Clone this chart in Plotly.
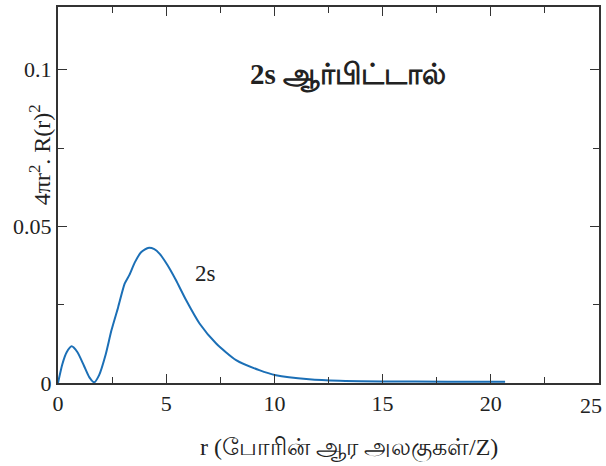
import plotly.graph_objects as go

r_vals = [0, 0.2, 0.4, 0.63, 0.9, 1.2, 1.45, 1.67, 1.9, 2.2, 2.47, 2.78, 3.08, 3.3, 3.55,
          3.85, 4.16, 4.45, 4.7, 4.93, 5.2, 5.46, 5.93, 6.54, 7.31, 8.23, 9.3, 10.07,
          11.6, 13, 15, 18, 20.66]
p_vals = [0, 0.006, 0.0098, 0.0117, 0.0098, 0.0055, 0.0018, 0.0002, 0.0025, 0.009, 0.0168,
          0.0242, 0.0317, 0.0345, 0.0385, 0.0418, 0.0431, 0.0427, 0.0412, 0.039, 0.036,
          0.0327, 0.0263, 0.019, 0.0126, 0.0073, 0.0041, 0.0025, 0.0012, 0.0007, 0.0005,
          0.0004, 0.0004]
x_ticks = [0, 5, 10, 15, 20, 25]
x_tick_labels = ["0", "5", "10", "15", "20", "25"]
y_ticks = [0, 0.05, 0.1]
y_tick_labels = ["0", "0.05", "0.1"]

FONT = "Liberation Serif"
fig = go.Figure()
fig.add_trace(go.Scatter(x=r_vals, y=p_vals, mode="lines",
                         line=dict(color="#1b6fb6", width=2, shape="spline", smoothing=0.6),
                         showlegend=False, hoverinfo="skip"))

axis_common = dict(showline=True, linecolor="#333333", linewidth=2, mirror="ticks",
                   ticks="inside", ticklen=9, tickwidth=1.2, tickcolor="#333333",
                   showgrid=False, zeroline=False,
                   tickfont=dict(family=FONT, size=22, color="#222222"))
# last x tick label sits at the page edge; draw it as a right-aligned text so it is not dropped
fig.update_xaxes(range=[0, 25], tickvals=x_ticks, ticktext=x_tick_labels[:-1] + [""],
                 minor=dict(dtick=2.5, tick0=0, ticks="inside", ticklen=6, tickcolor="#333333"),
                 **axis_common)
fig.update_yaxes(range=[0, 0.12], tickvals=y_ticks, ticktext=y_tick_labels,
                 minor=dict(dtick=0.025, tick0=0, ticks="inside", ticklen=6, tickcolor="#333333"),
                 **axis_common)
fig.add_annotation(xref="paper", yref="paper", x=1.009, y=0, xanchor="right", yanchor="top",
                   yshift=-8, text=x_tick_labels[-1], showarrow=False,
                   font=dict(family=FONT, size=22, color="#222222"))

fig.add_annotation(x=13.4, y=0.098, text="<b>2s ஆர்பிட்டால்</b>", showarrow=False,
                   font=dict(family=FONT, size=29, color="#222222"))
fig.add_annotation(x=6.8, y=0.0348, text="2s", showarrow=False,
                   font=dict(family=FONT, size=23, color="#222222"))
fig.add_annotation(xref="paper", yref="paper", x=0.538, y=-0.172, yanchor="middle",
                   text="r (போரின் ஆர அலகுகள்/Z)", showarrow=False,
                   font=dict(family=FONT, size=24, color="#222222"))
fig.add_annotation(xref="paper", yref="y", x=-0.034, y=0.0729, xanchor="center",
                   text="4πr<sup>2</sup>. R(r)<sup>2</sup>", textangle=-90, showarrow=False,
                   font=dict(family=FONT, size=24, color="#222222"))

fig.update_layout(width=606, height=466, margin=dict(l=58, r=5, t=5, b=83),
                  paper_bgcolor="white", plot_bgcolor="white")
fig.write_html("out.html", config={"displayModeBar": False},
               post_script=("document.body.style.margin='0px';document.body.style.padding='0px';"
                            "document.body.style.overflow='hidden';"
                            "document.documentElement.style.overflow='hidden';"))
